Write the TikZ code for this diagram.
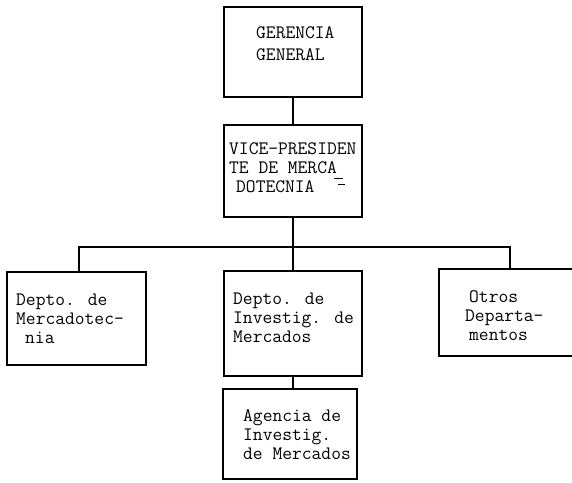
\documentclass[tikz,border=0pt]{standalone}
\usepackage{fontspec}
\begin{document}
\begin{tikzpicture}[x=1pt,y=-1pt,
  box/.style={draw, line width=1.3pt, inner sep=0pt},
  conn/.style={draw, line width=1.3pt, line join=miter},
  lbl/.style={font=\ttfamily\fontsize{19}{19}\selectfont, align=left, inner sep=0pt, anchor=base west},
  scanmark/.style={line width=0.9pt}]
\useasboundingbox (0,0) rectangle (572,482);
\fill[white] (0,0) rectangle (572,482);
% boxes
\node[box, minimum width=138pt, minimum height=90pt] (gg) at (293,52) {};
\node[box, minimum width=138pt, minimum height=92pt] (vp) at (293,171) {};
\node[box, minimum width=139pt, minimum height=93pt] (md) at (76.5,318.5) {};
\node[box, minimum width=138pt, minimum height=105pt] (mi) at (293,323.5) {};
\node[box, minimum width=135pt, minimum height=87pt] (od) at (506.5,312.5) {};
\node[box, minimum width=134pt, minimum height=90pt] (ag) at (290,434) {};
% texts (anchor = baseline of last line)
\node[lbl, font=\ttfamily\fontsize{19}{22}\selectfont] (tgg) at (256,60) {GERENCIA\\GENERAL};
\node[lbl] (tvp) at (229,192) {VICE-PRESIDEN\\TE DE MERCA\\\hspace*{7pt}DOTECNIA};
\node[lbl] (tmd) at (16,343) {Depto. de\\Mercadotec-\\\hspace*{9pt}nia};
\node[lbl] (tmi) at (233,342) {Depto. de\\Investig. de\\Mercados};
\node[lbl] (tod) at (465,340) {\hspace*{4pt}Otros\\Departa-\\\hspace*{4pt}mentos};
\node[lbl] (tag) at (243,459) {Agencia de\\Investig.\\de Mercados};
\draw[scanmark] (334,178) -- (343,178);
\draw[scanmark] (338,184) -- (345,184);
% connectors
\coordinate (bl) at (79,247);
\coordinate (br) at (510,247);
\draw[conn] (gg.south) -- (vp.north);
\draw[conn] (vp.south) -- (vp.south |- bl);
\draw[conn] (md.north -| bl) -- (bl) -- (br) -- (od.north -| br);
\draw[conn] (vp.south |- bl) -- (mi.north);
\draw[conn] (mi.south) -- (ag.north -| mi.south);
\end{tikzpicture}
\end{document}
